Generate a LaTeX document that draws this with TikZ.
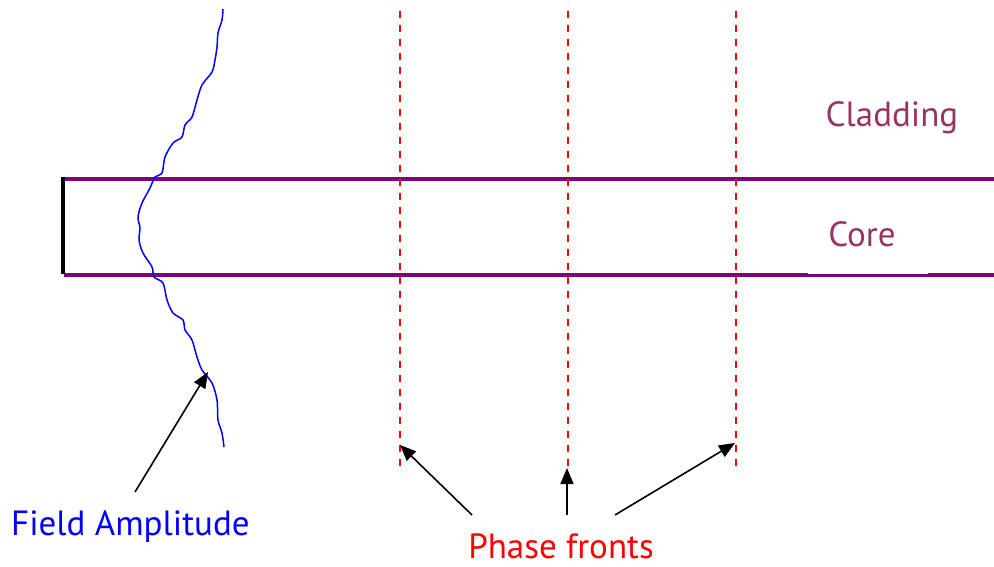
\documentclass[tikz,border=0pt]{standalone}
\usepackage{fontspec}
\setmainfont{PT Sans}
\usetikzlibrary{arrows.meta}
\definecolor{fiber}{RGB}{128,0,128}
\definecolor{labelpurple}{RGB}{153,51,102}
\definecolor{fieldblue}{RGB}{0,0,255}
\definecolor{phasered}{RGB}{255,0,0}
\tikzset{
  wall/.style={fiber, line width=4.5pt},
  front/.style={phasered, line width=1.4pt, dash pattern=on 7pt off 7pt},
  pointer/.style={black, line width=1.6pt, -{Triangle[length=16pt,width=13pt]}},
  lbl/.style={inner sep=0pt, font=\fontsize{35}{39}\selectfont},
}
\begin{document}
\begin{tikzpicture}[x=1pt,y=-1pt]
\useasboundingbox (0,0) rectangle (994,567);
% fiber walls
\coordinate (tl) at (62,179);
\coordinate (tr) at (994,179);
\coordinate (bl) at (64,275);
\coordinate (br) at (994,275);
\draw[wall] (tl) -- (tr);
\draw[wall] (bl) -- (br);
\fill[white] (808,271.5) rectangle (928,274);
\coordinate (el) at (63,177);
\coordinate (eb) at (63,274);
\draw[black, line width=4pt] (el) -- (eb);
% field amplitude curve
\draw[fieldblue, line width=1.5pt, line join=round]
 plot[smooth, tension=0.5] coordinates {
 (223,9) (222,20) (218,33) (217,47) (215,60) (212,72) (202,85) (197,100)
 (192,117) (185,125) (182,137) (173,143) (165,157) (162,173) (155,177)
 (150,188) (142,203) (138,217) (140,228) (139,240) (143,253) (152,267)
 (154,277) (163,283) (167,300) (173,313) (183,320) (185,330) (192,340)
 (197,357) (202,370) (212,383) (217,400) (218,420) (222,433) (224,447)};
% phase fronts
\coordinate (f1t) at (400,11);
\coordinate (f1b) at (400,466);
\coordinate (f2t) at (568,11);
\coordinate (f2b) at (568,466);
\coordinate (f3t) at (736,11);
\coordinate (f3b) at (736,466);
\draw[front] (f1t) -- (f1b);
\draw[front] (f2t) -- (f2b);
\draw[front] (f3t) -- (f3b);
% labels
\node[lbl, text=labelpurple, anchor=base] (clad) at (892,127) {Cladding};
\node[lbl, text=labelpurple, anchor=base] (core) at (862,247) {Core};
\node[lbl, text=fieldblue, anchor=base west] (field) at (11,535) {Field Amplitude};
\node[lbl, text=phasered, anchor=base] (phase) at (561,558) {Phase fronts};
% pointers
\coordinate (fa0) at (135,492);
\coordinate (fa1) at (208,372);
\draw[pointer] (fa0) -- (fa1);
\coordinate (p10) at (472,515);
\coordinate (p11) at (400,445);
\coordinate (p20) at (567,515);
\coordinate (p21) at (567,468);
\coordinate (p30) at (615,515);
\coordinate (p31) at (735,443);
\draw[pointer] (p10) -- (p11);
\draw[pointer] (p20) -- (p21);
\draw[pointer] (p30) -- (p31);
\end{tikzpicture}
\end{document}
